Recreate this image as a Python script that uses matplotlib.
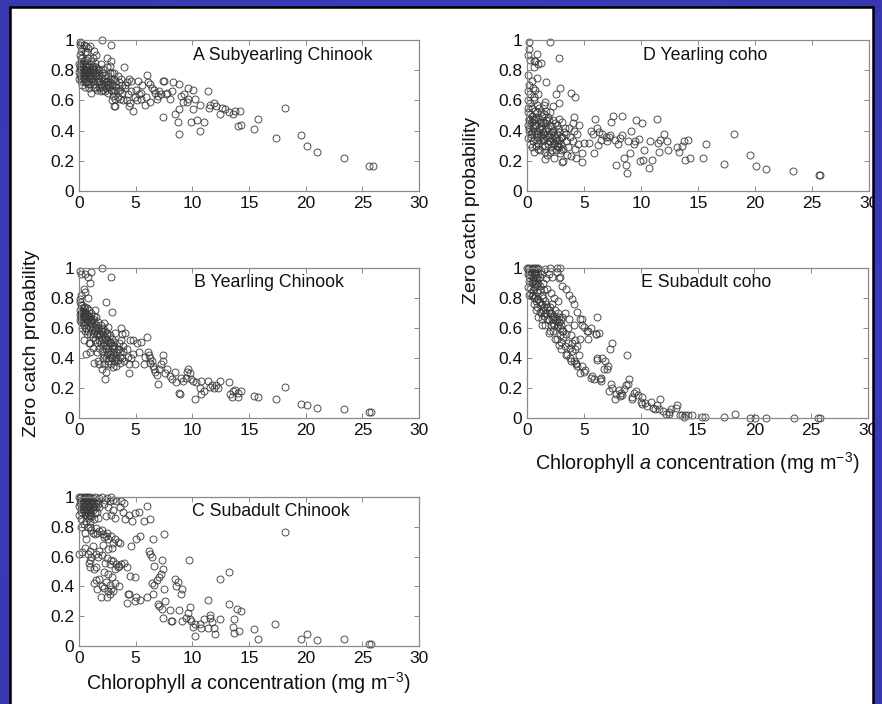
import numpy as np
import matplotlib
matplotlib.use("Agg")
import matplotlib.pyplot as plt

plt.rcParams['font.family'] = ['Liberation Sans', 'DejaVu Sans']
plt.rcParams['mathtext.fontset'] = 'custom'
plt.rcParams['mathtext.rm'] = 'Liberation Sans'
plt.rcParams['mathtext.it'] = 'Liberation Sans:italic'

# ---------------------------------------------------------------------------
# Data: (chlorophyll a concentration, zero catch probability) per panel
# ---------------------------------------------------------------------------
subyearling_chinook = [
    (25.6, 0.165), (25.9, 0.165), (23.4, 0.22), (21.0, 0.255), (20.1, 0.30), (19.6, 0.37),
    (18.2, 0.55), (17.4, 0.35), (15.8, 0.48), (15.4, 0.41), (14.3, 0.44), (14.0, 0.43),
    (14.2, 0.53), (13.8, 0.53), (13.6, 0.51), (13.2, 0.52), (12.4, 0.51), (12.1, 0.56),
    (11.9, 0.58), (11.6, 0.57), (11.5, 0.55), (11.4, 0.66), (11.0, 0.46), (10.7, 0.57),
    (10.7, 0.40), (10.4, 0.47), (9.9, 0.46), (10.1, 0.54), (10.2, 0.61), (9.6, 0.68),
    (10.1, 0.67), (9.6, 0.61), (9.5, 0.59), (9.2, 0.59), (9.3, 0.64), (8.8, 0.71),
    (9.0, 0.63), (8.8, 0.54), (8.5, 0.51), (8.7, 0.46), (8.8, 0.38), (8.3, 0.72),
    (8.2, 0.66), (8.0, 0.61), (7.8, 0.65), (7.5, 0.73), (7.4, 0.73), (7.4, 0.49),
    (7.1, 0.66), (7.2, 0.64), (6.9, 0.61), (6.7, 0.65), (6.6, 0.67), (6.4, 0.68),
    (6.3, 0.71), (6.0, 0.77), (6.1, 0.72), (6.3, 0.59), (5.8, 0.57), (5.9, 0.62),
    (5.5, 0.65), (5.5, 0.61), (5.2, 0.73), (4.9, 0.62), (4.8, 0.53), (5.0, 0.67),
    (4.6, 0.73), (4.4, 0.56), (4.2, 0.72), (4.3, 0.64), (4.1, 0.68), (4.0, 0.82),
    (3.8, 0.70), (3.8, 0.65), (3.6, 0.61), (3.4, 0.62), (3.2, 0.61), (3.1, 0.56),
    (3.2, 0.67), (2.9, 0.70), (2.8, 0.97), (2.0, 1.00), (2.5, 0.88), (2.7, 0.83),
    (2.9, 0.78), (7.0, 0.63), (7.7, 0.64), (12.6, 0.55), (12.9, 0.54),
    (0.05, 0.99), (0.1, 0.97), (0.2, 0.98), (0.3, 0.95), (0.15, 0.93), (0.4, 0.97),
    (0.6, 0.96), (0.8, 0.95), (1.0, 0.96), (0.5, 0.92), (0.1, 0.90), (0.3, 0.88),
    (0.2, 0.85), (0.4, 0.86), (0.6, 0.87), (0.8, 0.88), (1.1, 0.86), (0.1, 0.83),
    (0.3, 0.82), (0.5, 0.83), (0.7, 0.84), (0.9, 0.82), (1.2, 0.83), (1.4, 0.85),
    (0.2, 0.80), (0.4, 0.79), (0.6, 0.80), (0.8, 0.79), (1.0, 0.80), (1.3, 0.80),
    (1.6, 0.79), (0.1, 0.77), (0.3, 0.76), (0.5, 0.77), (0.7, 0.76), (0.9, 0.75),
    (1.1, 0.77), (1.5, 0.76), (1.8, 0.77), (0.2, 0.73), (0.4, 0.74), (0.6, 0.72),
    (0.8, 0.73), (1.0, 0.71), (1.2, 0.73), (1.7, 0.73), (2.0, 0.75), (2.3, 0.77),
    (0.3, 0.70), (0.5, 0.69), (0.9, 0.68), (1.3, 0.69), (1.6, 0.67), (2.2, 0.70),
    (2.5, 0.73), (2.7, 0.78), (2.8, 0.74), (2.4, 0.68), (2.9, 0.71), (3.0, 0.66),
    (1.9, 0.66), (1.1, 0.65), (2.6, 0.65), (3.3, 0.69), (3.5, 0.72), (2.1, 0.81),
    (1.9, 0.84), (2.5, 0.82), (3.1, 0.78), (3.4, 0.76), (3.7, 0.74), (0.7, 0.92),
    (1.3, 0.93), (1.5, 0.90), (2.8, 0.86), (0.0, 0.79), (0.0, 0.84), (0.0, 0.74),
    (1.4, 0.76), (1.2, 0.79), (0.6, 0.78), (0.9, 0.78), (0.4, 0.81), (2.2, 0.73),
    (2.0, 0.69), (1.7, 0.81), (2.6, 0.76), (3.2, 0.73), (3.6, 0.67), (4.1, 0.70),
    (4.4, 0.74), (4.6, 0.66), (4.2, 0.60), (4.5, 0.58), (3.9, 0.60), (5.3, 0.64),
    (5.6, 0.70), (5.1, 0.60), (3.2, 0.56), (2.9, 0.60), (1.5, 0.82), (1.1, 0.74),
    (0.25, 0.78), (0.45, 0.75), (0.65, 0.82), (0.85, 0.77), (1.05, 0.74), (1.25, 0.81),
    (1.45, 0.78), (1.65, 0.75), (1.85, 0.72), (2.05, 0.78), (2.25, 0.75), (2.45, 0.71),
    (2.65, 0.69), (2.85, 0.67), (3.05, 0.74), (0.35, 0.84), (0.55, 0.80), (0.75, 0.71),
    (0.95, 0.80), (1.15, 0.82), (1.35, 0.71), (1.55, 0.73), (1.75, 0.69), (1.95, 0.71),
    (2.15, 0.67), (2.35, 0.72), (2.55, 0.70), (0.15, 0.75), (0.05, 0.81), (0.5, 0.72),
    (1.0, 0.76), (1.4, 0.68), (2.3, 0.66), (2.7, 0.72), (3.4, 0.66), (3.0, 0.63),
    (1.8, 0.80), (0.7, 0.80), (0.2, 0.88), (1.2, 0.88),
]

yearling_chinook = [
    (25.6, 0.04), (25.8, 0.04), (23.4, 0.06), (21.0, 0.07), (20.1, 0.09), (19.6, 0.095),
    (18.2, 0.21), (17.4, 0.125), (15.8, 0.14), (15.4, 0.15), (14.3, 0.18), (14.0, 0.14),
    (14.0, 0.17), (13.8, 0.19), (13.6, 0.18), (13.3, 0.16), (13.5, 0.14), (13.2, 0.24),
    (12.4, 0.25), (12.3, 0.20), (12.1, 0.22), (11.9, 0.20), (11.6, 0.21), (11.4, 0.25),
    (11.7, 0.22), (11.0, 0.18), (10.8, 0.16), (10.7, 0.20), (10.2, 0.13), (10.8, 0.25),
    (10.3, 0.24), (10.1, 0.25), (9.9, 0.26), (9.6, 0.33), (9.8, 0.30), (9.5, 0.31),
    (9.4, 0.27), (9.2, 0.25), (9.0, 0.27), (8.9, 0.16), (8.8, 0.17), (8.6, 0.24),
    (8.5, 0.31), (8.2, 0.26), (8.0, 0.28), (7.8, 0.33), (7.6, 0.30), (7.4, 0.42),
    (7.4, 0.38), (7.1, 0.33), (7.0, 0.23), (6.9, 0.29), (6.7, 0.31), (6.5, 0.35),
    (6.4, 0.38), (6.3, 0.40), (6.2, 0.42), (6.1, 0.44), (6.0, 0.54), (5.8, 0.41),
    (5.7, 0.36), (5.5, 0.51), (5.3, 0.44), (5.1, 0.50), (4.9, 0.36), (4.8, 0.52),
    (4.5, 0.52), (4.4, 0.30), (4.1, 0.57), (4.2, 0.46), (3.9, 0.48), (3.8, 0.56),
    (3.7, 0.60), (3.5, 0.46), (3.6, 0.37), (3.3, 0.40), (2.8, 0.94), (2.0, 1.00),
    (2.4, 0.77), (2.9, 0.71), (2.3, 0.26), (0.1, 0.98), (0.2, 0.96), (0.5, 0.96),
    (0.8, 0.94), (1.0, 0.90), (1.1, 0.97), (0.2, 0.82), (0.5, 0.84), (0.8, 0.80),
    (0.1, 0.77), (0.4, 0.86), (6.3, 0.37), (6.6, 0.33), (7.2, 0.36),
    (0.1, 0.72), (0.2, 0.70), (0.3, 0.71), (0.4, 0.68), (0.5, 0.70), (0.6, 0.66),
    (0.7, 0.69), (0.8, 0.65), (0.9, 0.67), (1.0, 0.63), (1.1, 0.66), (1.2, 0.61),
    (1.3, 0.64), (1.4, 0.59), (1.5, 0.62), (1.6, 0.57), (1.7, 0.60), (1.8, 0.55),
    (1.9, 0.58), (2.0, 0.53), (2.1, 0.56), (2.2, 0.51), (2.3, 0.54), (2.4, 0.49),
    (2.5, 0.52), (2.6, 0.47), (2.7, 0.50), (2.8, 0.45), (2.9, 0.48), (3.0, 0.43),
    (3.1, 0.46), (3.2, 0.41), (3.3, 0.44), (3.4, 0.39), (0.2, 0.64), (0.4, 0.62),
    (0.6, 0.60), (0.8, 0.58), (1.0, 0.56), (1.2, 0.54), (1.4, 0.52), (1.6, 0.50),
    (1.8, 0.47), (2.0, 0.45), (2.2, 0.42), (2.4, 0.40), (2.6, 0.38), (2.8, 0.36),
    (3.0, 0.34), (0.3, 0.75), (0.5, 0.74), (0.7, 0.73), (0.9, 0.72), (1.1, 0.70),
    (1.3, 0.68), (1.5, 0.67), (1.7, 0.64), (1.9, 0.62), (2.1, 0.60), (2.3, 0.58),
    (2.5, 0.57), (2.7, 0.55), (2.9, 0.53), (3.1, 0.51), (0.6, 0.43), (1.0, 0.44),
    (1.3, 0.37), (1.7, 0.38), (2.0, 0.33), (2.4, 0.31), (2.6, 0.36), (3.3, 0.35),
    (3.8, 0.40), (4.0, 0.38), (4.3, 0.41), (4.6, 0.40), (4.8, 0.43), (3.6, 0.44),
    (3.9, 0.45), (4.4, 0.36), (0.05, 0.79), (0.15, 0.67), (0.35, 0.63), (0.7, 0.56),
    (1.0, 0.50), (1.2, 0.47), (1.6, 0.44), (2.1, 0.40), (2.5, 0.43), (2.8, 0.41),
    (3.5, 0.50), (3.7, 0.52), (2.2, 0.63), (2.6, 0.61), (1.4, 0.72), (3.2, 0.57),
    (0.45, 0.52), (0.9, 0.50), (0.05, 0.69), (0.25, 0.66), (0.55, 0.64), (1.15, 0.59),
    (0.15, 0.70), (0.35, 0.68), (0.55, 0.67), (0.75, 0.64), (0.95, 0.61), (1.15, 0.63),
    (1.35, 0.57), (1.55, 0.55), (1.75, 0.52), (1.95, 0.50), (2.15, 0.48), (2.35, 0.46),
    (2.55, 0.44), (2.75, 0.43), (2.95, 0.40), (3.15, 0.38), (0.25, 0.73), (0.45, 0.71),
    (0.65, 0.70), (0.85, 0.68), (1.05, 0.65), (1.25, 0.66), (1.45, 0.61), (1.65, 0.59),
    (1.85, 0.56), (2.05, 0.58), (2.25, 0.53), (2.45, 0.55), (2.65, 0.51), (2.85, 0.50),
    (3.05, 0.48), (0.1, 0.65), (0.3, 0.60), (0.5, 0.58), (1.8, 0.36), (2.2, 0.36),
    (3.4, 0.46), (3.6, 0.41), (0.2, 0.75), (0.4, 0.73),
]

subadult_chinook = [
    (25.6, 0.015), (25.8, 0.015), (23.4, 0.05), (21.0, 0.04), (20.1, 0.08), (19.6, 0.05),
    (18.2, 0.765), (17.3, 0.145), (15.8, 0.045), (15.4, 0.115), (14.3, 0.235), (13.9, 0.245),
    (14.1, 0.10), (13.7, 0.085), (13.6, 0.13), (13.7, 0.18), (13.2, 0.28), (13.2, 0.50),
    (12.4, 0.45), (12.4, 0.18), (12.0, 0.08), (11.9, 0.12), (11.7, 0.16), (11.6, 0.19),
    (11.4, 0.31), (11.6, 0.21), (11.4, 0.12), (11.0, 0.18), (10.8, 0.12), (10.7, 0.15),
    (10.2, 0.15), (10.2, 0.07), (10.1, 0.13), (9.9, 0.17), (9.7, 0.58), (9.8, 0.26),
    (9.8, 0.18), (9.6, 0.22), (9.4, 0.19), (9.1, 0.17), (8.8, 0.24), (8.7, 0.43),
    (9.1, 0.38), (9.0, 0.35), (8.6, 0.40), (8.5, 0.45), (8.2, 0.17), (8.1, 0.17),
    (8.0, 0.24), (7.6, 0.30), (7.5, 0.38), (7.4, 0.19), (7.3, 0.25), (7.1, 0.27),
    (7.0, 0.28), (7.4, 0.52), (7.3, 0.58), (7.5, 0.75), (6.9, 0.44), (7.1, 0.46),
    (7.2, 0.48), (6.4, 0.42), (6.6, 0.41), (6.0, 0.33), (6.5, 0.35), (6.0, 0.94),
    (6.3, 0.85), (6.2, 0.64), (6.3, 0.62), (6.4, 0.60), (6.6, 0.54), (6.5, 0.72),
    (5.7, 0.84), (5.4, 0.74), (5.3, 0.90), (5.4, 0.31), (5.0, 0.72), (5.0, 0.33),
    (4.9, 0.30), (4.9, 0.46), (4.9, 0.89), (4.7, 0.84), (4.4, 0.88), (4.6, 0.67),
    (4.5, 0.47), (4.2, 0.53), (4.2, 0.29), (4.3, 0.35), (4.4, 0.35), (4.0, 0.56),
    (4.0, 0.96), (3.7, 0.97), (3.7, 0.55), (3.5, 0.54), (3.4, 0.53), (3.2, 0.52),
    (3.5, 0.40), (3.2, 0.42), (2.8, 0.38), (2.5, 0.33), (2.2, 0.39), (1.9, 0.33),
    (1.6, 0.38), (1.3, 0.42), (2.0, 1.00), (2.5, 0.99), (2.8, 1.00), (3.0, 0.98),
    (3.3, 0.97), (3.6, 0.93), (2.6, 0.93), (2.2, 0.95), (3.2, 0.86), (2.8, 0.88),
    (2.4, 0.87), (3.0, 0.91), (3.9, 0.90), (4.1, 0.85), (1.0, 0.80), (1.5, 0.79),
    (2.0, 0.78), (2.5, 0.76), (2.8, 0.74), (3.2, 0.72), (3.4, 0.70), (3.6, 0.69),
    (1.2, 0.76), (2.2, 0.73), (2.6, 0.72), (1.8, 0.77), (3.0, 0.69), (0.5, 0.66),
    (1.0, 0.64), (1.5, 0.62), (2.0, 0.61), (2.5, 0.59), (2.8, 0.58), (3.0, 0.57),
    (2.7, 0.55), (2.3, 0.56), (3.3, 0.55), (1.8, 0.64), (1.2, 0.67), (0.8, 0.62),
    (0.3, 0.63), (0.0, 0.62), (0.6, 0.72), (2.6, 0.65), (2.9, 0.66), (2.2, 0.50),
    (2.6, 0.48), (2.9, 0.46), (0.9, 0.56), (1.3, 0.52), (1.5, 0.53), (1.0, 0.53),
    (1.8, 0.45), (2.4, 0.43), (2.7, 0.41), (3.0, 0.37), (2.7, 0.35), (2.6, 0.37),
    (1.5, 0.44), (2.0, 0.40), (0.0, 1.00), (0.1, 0.99), (0.2, 1.00), (0.3, 0.98),
    (0.4, 1.00), (0.5, 0.99), (0.6, 1.00), (0.7, 0.98), (0.8, 1.00), (0.9, 0.99),
    (1.0, 1.00), (1.1, 0.98), (1.2, 0.99), (1.4, 1.00), (1.6, 0.98), (1.8, 0.99),
    (0.1, 0.96), (0.3, 0.95), (0.5, 0.96), (0.7, 0.95), (0.9, 0.94), (1.1, 0.95),
    (1.3, 0.94), (1.5, 0.93), (0.2, 0.92), (0.4, 0.93), (0.6, 0.92), (0.8, 0.91),
    (1.0, 0.90), (1.2, 0.91), (1.4, 0.89), (0.3, 0.89), (0.5, 0.88), (0.7, 0.87),
    (0.9, 0.86), (1.1, 0.87), (0.2, 0.85), (0.6, 0.84), (1.3, 0.85), (1.6, 0.90),
    (1.8, 0.93), (0.0, 0.94), (0.0, 0.88), (0.4, 0.82), (0.8, 0.80), (0.2, 0.80),
    (1.0, 0.83), (1.7, 0.86), (0.5, 0.76), (1.4, 0.75), (2.1, 0.68), (1.1, 0.60),
    (0.15, 0.97), (0.35, 0.96), (0.55, 0.98), (0.75, 0.97), (0.95, 0.96), (1.15, 0.97),
    (1.35, 0.95), (0.25, 0.94), (0.45, 0.91), (0.65, 0.94), (0.85, 0.93), (1.05, 0.92),
    (1.25, 0.93), (0.15, 0.90), (0.35, 0.92), (0.55, 0.90), (0.75, 0.89), (0.95, 0.88),
    (1.5, 0.96), (1.7, 0.95), (2.3, 0.98), (2.7, 0.97), (1.1, 0.78), (1.6, 0.76),
    (2.1, 0.75), (2.4, 0.74), (1.0, 0.58), (1.7, 0.60),
]

yearling_coho = [
    (25.6, 0.105), (25.7, 0.105), (23.3, 0.13), (21.0, 0.145), (20.1, 0.165), (19.6, 0.24),
    (18.2, 0.38), (17.3, 0.18), (15.7, 0.31), (15.4, 0.22), (14.3, 0.22), (13.9, 0.205),
    (14.1, 0.34), (13.8, 0.33), (13.6, 0.30), (13.2, 0.29), (13.3, 0.26), (12.4, 0.27),
    (12.3, 0.33), (12.0, 0.375), (11.7, 0.34), (11.5, 0.32), (11.6, 0.26), (11.4, 0.48),
    (11.0, 0.205), (10.8, 0.33), (10.7, 0.155), (10.2, 0.205), (10.3, 0.27), (10.1, 0.45),
    (9.9, 0.20), (9.6, 0.47), (9.8, 0.345), (9.5, 0.33), (9.4, 0.31), (9.1, 0.40),
    (9.0, 0.25), (8.9, 0.33), (8.8, 0.12), (8.7, 0.17), (8.5, 0.22), (8.3, 0.50),
    (8.3, 0.37), (8.2, 0.35), (7.8, 0.17), (7.5, 0.50), (7.4, 0.455), (7.3, 0.37),
    (7.2, 0.36), (6.9, 0.36), (6.6, 0.375), (6.3, 0.39), (6.2, 0.305), (6.1, 0.42),
    (6.0, 0.48), (5.9, 0.25), (5.8, 0.38), (5.6, 0.40), (5.4, 0.315), (5.0, 0.315),
    (4.8, 0.19), (4.8, 0.25), (4.6, 0.44), (4.4, 0.38), (4.2, 0.62), (3.9, 0.65),
    (4.1, 0.49), (4.0, 0.45), (7.0, 0.33), (7.7, 0.34), (8.0, 0.31), (6.5, 0.34),
    (0.15, 0.99), (0.2, 0.94), (0.1, 0.90), (0.3, 0.87), (0.6, 0.86), (0.9, 0.91),
    (0.7, 0.86), (1.2, 0.85), (0.9, 0.75), (0.1, 0.77), (1.7, 0.72), (2.0, 0.99),
    (2.8, 0.88), (2.9, 0.68), (2.8, 0.58), (2.5, 0.64), (0.6, 0.82), (1.0, 0.84),
    (0.4, 0.73), (0.7, 0.67), (1.0, 0.64), (1.6, 0.59), (2.3, 0.56), (3.1, 0.19),
    (0.1, 0.52), (0.2, 0.48), (0.3, 0.45), (0.4, 0.50), (0.5, 0.42), (0.6, 0.47),
    (0.7, 0.53), (0.8, 0.44), (0.9, 0.40), (1.0, 0.48), (1.1, 0.36), (1.2, 0.43),
    (1.3, 0.50), (1.4, 0.39), (1.5, 0.34), (1.6, 0.45), (1.7, 0.41), (1.8, 0.31),
    (1.9, 0.37), (2.0, 0.44), (2.1, 0.29), (2.2, 0.35), (2.3, 0.40), (2.4, 0.32),
    (2.5, 0.27), (2.6, 0.38), (2.7, 0.30), (2.8, 0.34), (2.9, 0.25), (3.0, 0.31),
    (3.1, 0.36), (3.2, 0.28), (3.3, 0.42), (3.4, 0.33), (3.5, 0.24), (0.15, 0.40),
    (0.35, 0.36), (0.55, 0.33), (0.75, 0.30), (0.95, 0.28), (1.15, 0.27), (1.35, 0.30),
    (1.55, 0.26), (1.75, 0.24), (0.25, 0.58), (0.45, 0.55), (0.65, 0.60), (0.85, 0.57),
    (1.05, 0.55), (1.25, 0.52), (1.45, 0.57), (1.65, 0.53), (1.85, 0.49), (2.05, 0.52),
    (2.25, 0.47), (2.45, 0.45), (2.65, 0.44), (2.85, 0.48), (3.05, 0.46), (3.25, 0.39),
    (0.05, 0.44), (0.05, 0.35), (0.05, 0.60), (0.1, 0.66), (0.2, 0.70), (0.3, 0.64),
    (0.5, 0.68), (0.6, 0.62), (0.35, 0.38), (0.75, 0.38), (1.05, 0.42), (1.4, 0.46),
    (1.8, 0.42), (2.2, 0.39), (2.6, 0.34), (3.6, 0.29), (3.8, 0.36), (4.0, 0.33),
    (4.2, 0.28), (4.5, 0.31), (3.9, 0.23), (4.3, 0.22), (3.7, 0.42), (4.1, 0.40),
    (1.2, 0.33), (2.0, 0.26), (2.4, 0.22), (3.2, 0.20), (1.6, 0.21), (2.8, 0.29),
    (0.9, 0.34), (1.5, 0.51), (0.25, 0.31), (0.65, 0.26), (1.9, 0.47), (2.7, 0.41),
    (0.2, 0.42), (0.4, 0.46), (0.6, 0.40), (0.8, 0.49), (1.0, 0.38), (1.2, 0.46),
    (1.4, 0.35), (1.6, 0.40), (1.8, 0.36), (2.0, 0.33), (2.2, 0.43), (2.4, 0.37),
    (2.6, 0.30), (2.8, 0.39), (3.0, 0.36), (0.3, 0.51), (0.5, 0.48), (0.7, 0.44),
    (0.9, 0.52), (1.1, 0.45), (1.3, 0.41), (1.5, 0.38), (1.7, 0.47), (1.9, 0.33),
    (2.1, 0.38), (2.3, 0.31), (2.5, 0.35), (2.7, 0.32), (0.15, 0.47), (0.45, 0.39),
    (0.85, 0.36), (1.25, 0.37), (0.1, 0.55), (0.7, 0.48), (1.0, 0.31), (1.6, 0.30),
    (2.2, 0.27), (3.4, 0.38), (3.0, 0.27), (0.4, 0.29),
]

subadult_coho = [
    (25.6, 0.0), (25.8, 0.0), (23.5, 0.0), (21.0, 0.0), (20.1, 0.0), (19.6, 0.0),
    (18.3, 0.03), (17.3, 0.005), (15.7, 0.01), (15.4, 0.01), (14.5, 0.02), (14.2, 0.02),
    (13.9, 0.02), (13.6, 0.02), (13.8, 0.01), (13.5, 0.02), (13.2, 0.09), (13.1, 0.07),
    (12.7, 0.06), (12.5, 0.04), (12.2, 0.03), (12.0, 0.05), (11.7, 0.13), (11.6, 0.06),
    (11.4, 0.09), (11.1, 0.07), (10.9, 0.11), (10.6, 0.08), (10.4, 0.10), (10.1, 0.14),
    (10.0, 0.11), (9.8, 0.155), (9.6, 0.18), (9.4, 0.17), (9.2, 0.13), (8.8, 0.42),
    (9.0, 0.26), (8.9, 0.23), (8.7, 0.22), (8.5, 0.195), (8.3, 0.17), (8.2, 0.15),
    (8.1, 0.185), (7.8, 0.16), (7.7, 0.13), (7.5, 0.50), (7.3, 0.46), (7.4, 0.23),
    (7.2, 0.18), (7.1, 0.35), (7.0, 0.33), (6.9, 0.38), (6.8, 0.33), (6.6, 0.40),
    (6.5, 0.27), (6.4, 0.26), (6.2, 0.40), (6.2, 0.39), (6.1, 0.56), (6.3, 0.57),
    (6.2, 0.67), (5.9, 0.26), (5.7, 0.28), (5.4, 0.53), (5.3, 0.58), (5.0, 0.61),
    (4.8, 0.66), (4.7, 0.53), (4.8, 0.35), (5.1, 0.32), (4.7, 0.30), (4.4, 0.35),
    (4.3, 0.37), (4.2, 0.46), (4.0, 0.50), (8.4, 0.155), (9.2, 0.14), (10.1, 0.095),
    (11.3, 0.06), (12.5, 0.03), (6.5, 0.25), (7.5, 0.20),
    (0.0, 1.0), (0.1, 0.99), (0.2, 1.0), (0.3, 0.98), (0.4, 1.0), (0.5, 0.99),
    (0.6, 1.0), (0.7, 0.98), (0.8, 1.0), (0.9, 0.99), (1.0, 1.0), (1.2, 0.98),
    (0.1, 0.96), (0.3, 0.95), (0.5, 0.94), (0.7, 0.95), (0.9, 0.93), (1.1, 0.94),
    (0.2, 0.91), (0.4, 0.90), (0.6, 0.92), (0.8, 0.89), (1.0, 0.90), (0.1, 0.87),
    (0.3, 0.86), (0.5, 0.85), (0.7, 0.87), (0.9, 0.84), (1.1, 0.85), (0.2, 0.82),
    (0.4, 0.81), (0.6, 0.80), (0.8, 0.78), (1.0, 0.79), (1.3, 0.82), (1.5, 0.85),
    (1.4, 0.90), (1.7, 0.93), (2.0, 1.0), (2.6, 1.0), (2.9, 1.0), (2.6, 0.97),
    (2.8, 0.93), (2.2, 0.94), (1.9, 0.96), (1.6, 0.99), (1.3, 0.96), (2.9, 0.94),
    (3.1, 0.88), (3.4, 0.86), (3.7, 0.82), (4.0, 0.79), (4.1, 0.76), (4.4, 0.71),
    (4.7, 0.66), (4.8, 0.62), (5.4, 0.58), (5.6, 0.60), (6.1, 0.56), (1.2, 0.75),
    (1.4, 0.72), (1.6, 0.78), (1.8, 0.74), (2.0, 0.70), (2.2, 0.76), (2.4, 0.68),
    (2.6, 0.66), (2.8, 0.64), (3.0, 0.62), (2.5, 0.72), (2.7, 0.70), (1.5, 0.68),
    (1.9, 0.65), (2.1, 0.62), (2.3, 0.63), (3.2, 0.58), (3.4, 0.56), (3.1, 0.67),
    (3.6, 0.60), (1.3, 0.66), (1.1, 0.71), (0.9, 0.74), (1.6, 0.62), (2.9, 0.55),
    (2.6, 0.53), (2.8, 0.49), (3.0, 0.51), (3.3, 0.48), (3.6, 0.50), (3.8, 0.47),
    (4.0, 0.45), (3.5, 0.43), (3.8, 0.40), (4.1, 0.38), (2.3, 0.58), (2.0, 0.58),
    (1.7, 0.70), (1.0, 0.67), (0.8, 0.72), (3.2, 0.54), (3.9, 0.55), (4.2, 0.52),
    (4.4, 0.48), (4.6, 0.42), (4.1, 0.62), (3.7, 0.66), (3.3, 0.70), (2.4, 0.80),
    (2.1, 0.83), (1.8, 0.86), (2.7, 0.78), (1.3, 0.62), (1.9, 0.57), (2.5, 0.53),
    (3.0, 0.46), (3.4, 0.42), (3.9, 0.38), (4.3, 0.36), (5.0, 0.31), (5.6, 0.27),
    (0.3, 0.93), (0.5, 0.91), (0.7, 0.90), (0.9, 0.88), (1.1, 0.88), (0.2, 0.95),
    (0.4, 0.97), (0.6, 0.96), (0.8, 0.93), (1.0, 0.96), (0.3, 0.83), (0.5, 0.82),
    (0.7, 0.81), (0.9, 0.79), (1.1, 0.77), (1.3, 0.76), (1.5, 0.74), (1.7, 0.76),
    (1.9, 0.72), (2.1, 0.70), (2.3, 0.67), (2.5, 0.65), (2.7, 0.62), (2.9, 0.60),
    (3.1, 0.58), (2.2, 0.66), (2.6, 0.61), (2.8, 0.67), (1.4, 0.80), (1.6, 0.70),
    (2.0, 0.74), (2.4, 0.62), (3.0, 0.65), (0.6, 0.76), (1.2, 0.70), (1.8, 0.66),
]

x_ticks = [0, 5, 10, 15, 20, 25, 30]
y_ticks = [0, 0.2, 0.4, 0.6, 0.8, 1.0]
y_tick_labels = ['0', '0.2', '0.4', '0.6', '0.8', '1']

W, H = 882, 704
fig = plt.figure(figsize=(W / 100, H / 100), dpi=100)
fig.patch.set_facecolor('white')


def px_rect(x0, y0, x1, y1):
    """Axes rectangle from pixel corners (top-left origin)."""
    return [x0 / W, 1 - y1 / H, (x1 - x0) / W, (y1 - y0) / H]


panels = [
    ('A Subyearling Chinook', subyearling_chinook, (79, 40, 419, 191), 0.60),
    ('B Yearling Chinook', yearling_chinook, (79, 268, 419, 418), 0.56),
    ('C Subadult Chinook', subadult_chinook, (79, 497, 419, 646), 0.565),
    ('D Yearling coho', yearling_coho, (527, 40, 869, 191), 0.52),
    ('E Subadult coho', subadult_coho, (527, 268, 868, 418), 0.525),
]

frame_col = '#8a8a8a'
for title, pts, box, tx in panels:
    ax = fig.add_axes(px_rect(*box))
    xs = [p[0] for p in pts]
    ys = [p[1] for p in pts]
    ax.plot(xs, ys, linestyle='none', marker='o', markersize=5.0,
            markerfacecolor='none', markeredgecolor='#3a3a3a',
            markeredgewidth=0.7, alpha=0.9, clip_on=False)
    ax.set_xlim(0, 30)
    ax.set_ylim(0, 1)
    ax.set_xticks(x_ticks)
    ax.set_yticks(y_ticks)
    ax.set_yticklabels(y_tick_labels)
    ax.tick_params(direction='in', top=True, right=True, length=3.5,
                   width=0.7, color=frame_col, labelsize=12.5,
                   labelcolor='#111111')
    ax.tick_params(axis='x', pad=3.5)
    ax.tick_params(axis='y', pad=3.5)
    for sp in ax.spines.values():
        sp.set_color(frame_col)
        sp.set_linewidth(0.9)
    ax.text(tx, 0.90, title, transform=ax.transAxes, ha='center',
            va='center', fontsize=12.8, color='#111111')

xlabel = r'Chlorophyll $\mathit{a}$ concentration (mg m$^{\mathrm{-3}}$)'
fig.text(248 / W, 1 - 683 / H, xlabel, ha='center', va='center',
         fontsize=14.2, color='#111111')
fig.text(697 / W, 1 - 463 / H, xlabel, ha='center', va='center',
         fontsize=14.2, color='#111111')
fig.text(32 / W, 1 - 343 / H, 'Zero catch probability', rotation=90,
         ha='center', va='center', fontsize=14, color='#111111')
fig.text(471 / W, 1 - 210 / H, 'Zero catch probability', rotation=90,
         ha='center', va='center', fontsize=14, color='#111111')

# Slide frame: blue surround drawn above everything, transparent over the panel
ov = fig.add_axes([0, 0, 1, 1], zorder=20)
ov.set_axis_off()
yy, xx = np.mgrid[0:H, 0:W]
r = np.sqrt(((xx - W / 2) / (W / 2)) ** 2 + ((yy - H / 2) / (H / 2)) ** 2)
shade = np.clip(1.05 - 0.1 * r, 0, 1)
img = np.zeros((H, W, 4))
img[..., 0] = 0.24 * shade
img[..., 1] = 0.24 * shade
img[..., 2] = 0.76 * shade
inside = (xx >= 10) & (xx <= 873) & (yy >= 7)
img[..., 3] = np.where(inside, 0.0, 1.0)
ov.imshow(img, extent=(0, W, H, 0), interpolation='nearest', aspect='auto')
ov.set_xlim(0, W)
ov.set_ylim(H, 0)
ov.plot([10, 10, 873, 873], [H + 5, 7, 7, H + 5], color='black', lw=1.8,
        solid_joinstyle='miter')

fig.savefig('out.png', dpi=100, facecolor=fig.get_facecolor())
